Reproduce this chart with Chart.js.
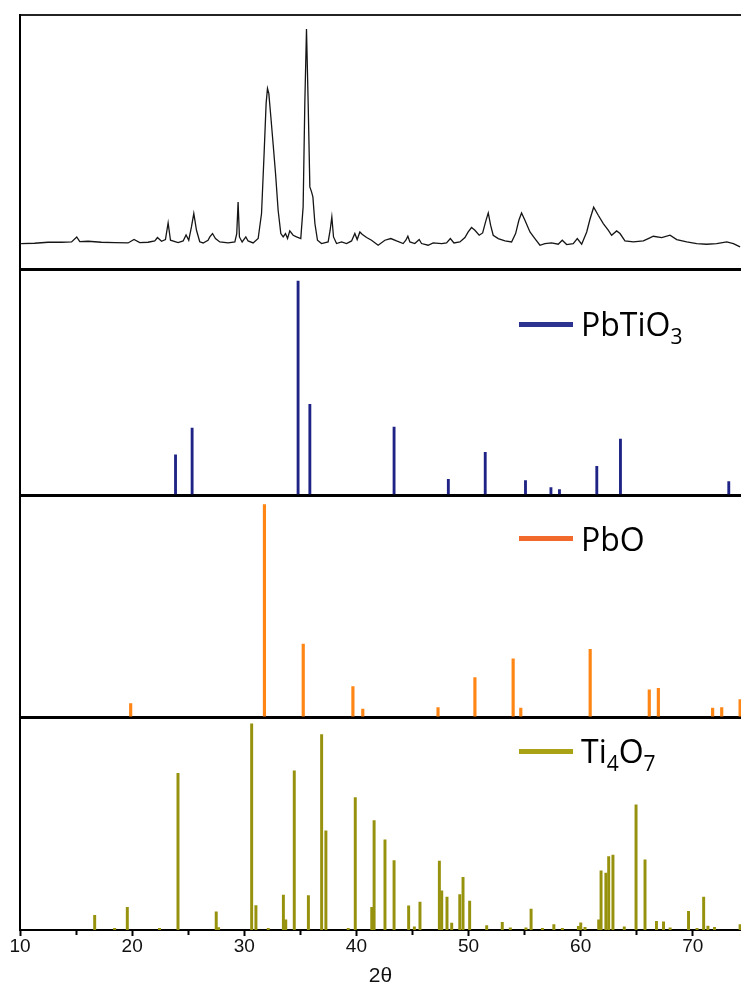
<!DOCTYPE html>
<html>
<head>
<meta charset="utf-8">
<script src="https://cdn.jsdelivr.net/npm/chart.js@4.4.1/dist/chart.umd.min.js"></script>
<style>
html,body{margin:0;padding:0;background:#fff;}
#wrap{position:relative;width:741px;height:995px;overflow:hidden;background:#fff;}
#c{position:absolute;left:0;top:0;}
.sw{position:absolute;width:54px;height:5px;}
.lt{position:absolute;font-family:'Open Sans',sans-serif;font-size:32px;line-height:32px;color:#000;white-space:nowrap;}
.lt sub{font-size:21px;vertical-align:baseline;position:relative;top:8px;}
</style>
</head>
<body>
<div id="wrap">
<canvas id="c" width="741" height="995"></canvas>
<div class="sw" style="left:519px;top:322px;background:#2B3290"></div>
<div class="lt" style="left:581px;top:308px">PbTiO<sub>3</sub></div>
<div class="sw" style="left:519px;top:536px;background:#F26A2B"></div>
<div class="lt" style="left:581px;top:523px">PbO</div>
<div class="sw" style="left:519px;top:749px;background:#A8A214"></div>
<div class="lt" style="left:581px;top:735px">Ti<sub>4</sub>O<sub>7</sub></div>
</div>
<script>
// ---- x axis ----
const xMin = 10, xMax = 74.3;
const majorTicks = [10, 20, 30, 40, 50, 60, 70];
const minorTicks = [15, 25, 35, 45, 55, 65];
const xTitle = '2θ';

// ---- measured XRD pattern (2θ, intensity a.u.) ----
const xrdTheta = [
 10.1, 11.3, 12.5, 13.7, 14.6, 15.06, 15.33, 16.07, 17.26, 18.45,
 19.64, 20.17, 20.68, 21.42, 22.02, 22.26, 22.62, 22.97, 23.21, 23.42,
 24.10, 24.55, 24.81, 25.05, 25.29, 25.50, 25.74, 26.03, 26.33, 26.77,
 26.93, 27.17, 27.43, 27.82, 28.56, 29.16, 29.33, 29.45, 29.57, 29.81,
 30.14, 30.34, 30.79, 31.24, 31.54, 31.77, 31.95, 32.07, 32.19, 32.37,
 32.57, 32.79, 33.02, 33.26, 33.47, 33.68, 33.86, 34.06, 34.36, 34.66,
 35.04, 35.25, 35.40, 35.55, 35.70, 35.85, 36.00, 36.12, 36.30, 36.53,
 36.89, 37.48, 37.66, 37.81, 37.96, 38.23, 38.68, 39.12, 39.57, 39.86,
 40.07, 40.31, 40.51, 40.91, 41.35, 41.94, 42.54, 43.07, 43.58, 44.17,
 44.41, 44.59, 44.77, 45.21, 45.60, 45.81, 46.40, 46.85, 47.60, 48.04,
 48.38, 48.70, 49.23, 49.68, 49.97, 50.27, 50.57, 50.95, 51.26, 51.52,
 51.76, 51.97, 52.20, 52.65, 53.25, 53.84, 54.20, 54.49, 54.73, 55.03,
 55.48, 55.92, 56.37, 56.81, 57.41, 58.00, 58.36, 58.75, 59.34, 59.70,
 60.09, 60.54, 60.83, 61.16, 61.57, 62.02, 62.46, 62.76, 63.21, 63.51,
 63.95, 64.70, 65.59, 66.03, 66.48, 67.23, 67.97, 68.57, 69.46, 70.35,
 71.24, 72.13, 73.03, 73.62, 74.22
];
const xrdIntensity = [
 25.7, 26, 27, 27, 27.3, 32.3, 27.7, 28, 27, 26.7,
 26.3, 29.7, 26.7, 27, 28.3, 31.7, 28, 29.7, 46.3, 29,
 26.7, 28.3, 34.3, 29, 42.3, 55.7, 39, 27.5, 26.3, 29,
 32.3, 35.7, 30.7, 27.3, 26.3, 27.3, 35.7, 67.3, 32.3, 27.3,
 32.3, 28.3, 26.3, 30.7, 55.7, 115.7, 165.7, 180.7, 175.7, 152.3,
 125.7, 95.7, 59, 35.7, 32.3, 35.7, 30.7, 38.3, 34, 32.3,
 30.7, 62.3, 165.7, 240, 165.7, 82.3, 77.3, 72.3, 45.7, 29,
 25.7, 27.3, 39, 52.3, 32.3, 25.7, 27.3, 25.7, 28.3, 35.7,
 29.7, 37.3, 35, 31.7, 29, 24, 29, 30.7, 28.3, 25.7,
 29, 33, 27.3, 25.7, 29.7, 25.7, 24, 26.3, 25.7, 26.3,
 30.7, 26.3, 27.3, 31.7, 37.3, 41.7, 39, 34, 36.3, 47.3,
 56.3, 44, 34, 30.7, 28.3, 27.3, 35.7, 49, 56.3, 49,
 37.3, 30.7, 24, 25.7, 26.3, 25, 29, 24.7, 25.7, 30.7,
 25, 37.3, 50, 62, 54, 45.7, 39, 34, 38.3, 35.7,
 28.3, 27.3, 28.3, 30.7, 33, 31.7, 34, 29.7, 27.3, 25.7,
 25, 25.7, 27.3, 25.7, 22.3
];

// ---- reference sticks (2θ, relative intensity %) ----
const pbtio3Pos = [23.87, 25.35, 34.80, 35.85, 43.36, 48.20, 51.49, 55.08, 57.35, 58.11, 61.44, 63.55, 73.21];
const pbtio3Int = [19.0, 31.4, 100, 42.5, 31.9, 7.5, 20.2, 7.0, 3.7, 2.8, 13.6, 26.3, 6.5];

const pboPos = [19.87, 31.80, 35.26, 39.69, 40.57, 47.28, 50.57, 53.98, 54.66, 60.85, 66.12, 66.93, 71.77, 72.58, 74.22];
const pboInt = [6.7, 100, 34.6, 14.6, 4.1, 4.8, 18.9, 27.6, 4.6, 32.1, 13.1, 13.8, 4.6, 4.8, 8.5];

const ti4o7Pos = [16.66, 18.44, 19.57, 22.44, 24.09, 27.50, 27.71, 30.66, 31.04, 32.14,
 33.49, 33.70, 34.46, 35.72, 36.90, 37.28, 39.27, 39.90, 41.37, 41.58,
 42.55, 43.36, 44.66, 45.17, 45.67, 47.40, 47.61, 48.08, 48.50, 49.22,
 49.51, 50.10, 51.62, 53.01, 53.73, 55.12, 55.58, 56.59, 57.61, 58.37,
 59.80, 60.01, 60.39, 61.61, 61.82, 62.25, 62.50, 62.88, 63.89, 64.94,
 65.74, 66.76, 67.39, 67.98, 69.62, 70.38, 70.97, 71.35, 71.94, 74.22];
const ti4o7Int = [7.1, 0.8, 11.0, 0.8, 76.0, 8.8, 1.2, 100, 11.8, 0.8,
 16.9, 4.9, 77.2, 16.7, 94.8, 48.1, 0.8, 64.3, 11.0, 53.1,
 43.8, 33.7, 11.7, 1.5, 13.5, 33.4, 19.0, 16.0, 3.3, 17.2,
 25.6, 14.0, 2.1, 3.7, 1.0, 1.0, 10.1, 0.8, 2.6, 0.8,
 1.8, 3.5, 1.3, 4.9, 28.7, 27.6, 35.6, 36.3, 1.5, 60.8,
 34.0, 4.2, 4.0, 1.0, 9.1, 0.8, 16.0, 1.9, 1.3, 2.6];

const seriesNames = ['Sample', 'PbTiO3', 'PbO', 'Ti4O7'];

// ---- build ----
const pts = (xs, ys) => xs.map((x, i) => ({x: x, y: ys[i]}));

function panelAxis(weight, stackWeight, max, lines) {
  return {
    type: 'linear', position: 'left', stack: 'panels', stackWeight: stackWeight, weight: weight,
    min: 0, max: max,
    afterBuildTicks: (ax) => { ax.ticks = lines.map(v => ({value: v})); },
    ticks: {display: false},
    grid: {
      display: true, drawOnChartArea: true, drawTicks: false,
      color: (ctx) => (ctx.tick && ctx.tick.value === 0) ? '#000' : '#222',
      lineWidth: (ctx) => (ctx.tick && ctx.tick.value === 0) ? 3 : 2
    },
    border: {display: true, color: '#000', width: 2}
  };
}

const chart = new Chart(document.getElementById('c'), {
  type: 'line',
  data: {
    datasets: [
      {label: seriesNames[0], type: 'line', data: pts(xrdTheta, xrdIntensity), yAxisID: 'yX',
       borderColor: '#151515', borderWidth: 1.3, pointRadius: 0, tension: 0, fill: false},
      {label: seriesNames[1], type: 'bar', data: pts(pbtio3Pos, pbtio3Int), yAxisID: 'yA',
       backgroundColor: '#1E2385', barThickness: 2.2, grouped: false},
      {label: seriesNames[2], type: 'bar', data: pts(pboPos, pboInt), yAxisID: 'yP',
       backgroundColor: '#FF8514', barThickness: 2.5, grouped: false},
      {label: seriesNames[3], type: 'bar', data: pts(ti4o7Pos, ti4o7Int), yAxisID: 'yT',
       backgroundColor: '#97920E', barThickness: 2.3, grouped: false}
    ]
  },
  options: {
    responsive: false,
    animation: false,
    devicePixelRatio: 1,
    layout: {padding: {left: 20, top: 15, right: 0, bottom: 8}},
    plugins: {legend: {display: false}, tooltip: {enabled: false}, title: {display: false}},
    scales: {
      x: {
        type: 'linear', position: 'bottom', min: xMin, max: xMax, offset: false,
        afterBuildTicks: (ax) => { ax.ticks = majorTicks.concat(minorTicks).sort((a, b) => a - b).map(v => ({value: v})); },
        ticks: {
          autoSkip: false, maxRotation: 0, padding: 1, color: '#111',
          font: {family: "'Liberation Sans', Arial, sans-serif", size: 19, lineHeight: 1},
          callback: (v) => majorTicks.includes(v) ? String(v) : ''
        },
        grid: {
          display: true, drawOnChartArea: false, drawTicks: true, offset: false,
          tickLength: 6, tickWidth: 2, tickColor: '#000',
          tickBorderDash: (ctx) => (ctx.tick && minorTicks.includes(ctx.tick.value)) ? [4, 40] : []
        },
        border: {display: true, color: '#000', width: 2},
        title: {display: true, text: xTitle, color: '#111',
          font: {family: "'Liberation Sans', Arial, sans-serif", size: 21, lineHeight: 1},
          padding: {top: 9, bottom: 0}}
      },
      yX: panelAxis(4, 254, 254, [0, 254]),
      yA: panelAxis(3, 226, 105.5, [0]),
      yP: panelAxis(2, 222, 104.2, [0]),
      yT: panelAxis(1, 212, 103, [])
    }
  }
});
</script>
</body>
</html>
